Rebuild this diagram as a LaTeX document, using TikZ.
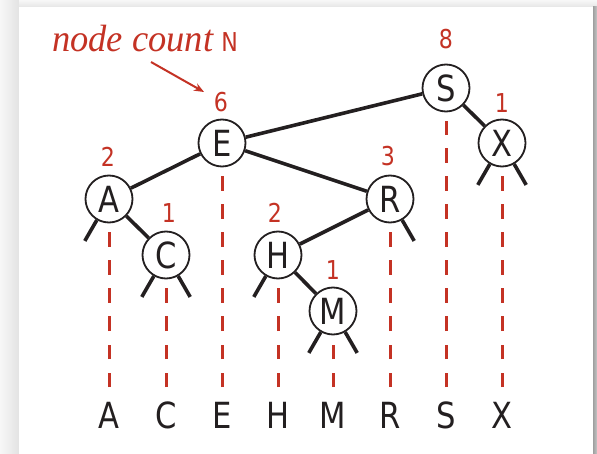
\documentclass[tikz,border=0pt]{standalone}
\usepackage{fontspec}
\newfontfamily\keyfont[FakeStretch=0.85]{DejaVu Sans}
\newfontfamily\notefont[FakeStretch=0.96]{Liberation Serif}
\usetikzlibrary{arrows.meta}
\definecolor{keyred}{RGB}{196,50,36}
\definecolor{ink}{RGB}{35,31,32}
\tikzset{
  bst/.style={circle, draw=ink, line width=1.8pt, fill=white, minimum size=47pt, inner sep=0pt,
              font=\keyfont\fontsize{36}{36}\selectfont, text=ink},
  link/.style={draw=ink, line width=3.6pt},
  cnt/.style={text=keyred, font=\keyfont\fontsize{26}{26}\selectfont, inner sep=0pt},
  keylbl/.style={text=ink, font=\keyfont\fontsize{36}{36}\selectfont, anchor=base, inner sep=0pt},
  keyline/.style={draw=keyred, line width=3pt, dash pattern=on 14.5pt off 13.5pt},
  note/.style={text=keyred, anchor=base west, inner sep=0pt},
  notearrow/.style={draw=keyred, line width=2pt, -{Stealth[length=10pt,width=8pt]}}
}
\begin{document}
\begin{tikzpicture}[x=1pt,y=-1pt]
\useasboundingbox (0,0) rectangle (597,454);
% background and panel
\fill[gray!10] (0,0) rectangle (597,454);
\shade[left color=gray!6, right color=gray!22] (0,0) rectangle (19,454);
\shade[top color=gray!6, bottom color=gray!20] (19,0) rectangle (597,7);
\shade[left color=gray!75, right color=gray!45] (593,7) rectangle (597,454);
\fill[white] (19,7) rectangle (593,454);

% tree nodes
\node[bst] (S) at (446,88) {S};
\node[bst] (E) at (222,143) {E};
\node[bst] (X) at (502,143) {X};
\node[bst] (A) at (109,199) {A};
\node[bst] (R) at (390,199) {R};
\node[bst] (C) at (166,255) {C};
\node[bst] (H) at (278,255) {H};
\node[bst] (M) at (333,311) {M};

% links
\draw[link] (S) -- (E);
\draw[link] (S) -- (X);
\draw[link] (E) -- (A);
\draw[link] (E) -- (R);
\draw[link] (A) -- (C);
\draw[link] (R) -- (H);
\draw[link] (H) -- (M);

% null links
\draw[link] (A.-120) -- ++(-120:24pt);
\draw[link] (C.-120) -- ++(-120:24pt);
\draw[link] (C.-60) -- ++(-60:24pt);
\draw[link] (H.-120) -- ++(-120:24pt);
\draw[link] (M.-120) -- ++(-120:24pt);
\draw[link] (M.-60) -- ++(-60:24pt);
\draw[link] (R.-60) -- ++(-60:24pt);
\draw[link] (X.-120) -- ++(-120:24pt);
\draw[link] (X.-60) -- ++(-60:24pt);

% counts
\node[cnt] (nS) at (446,39) {8};
\node[cnt] (nE) at (221,102) {6};
\node[cnt] (nX) at (502,103) {1};
\node[cnt] (nA) at (108,157) {2};
\node[cnt] (nR) at (388,156) {3};
\node[cnt] (nC) at (169,213) {1};
\node[cnt] (nH) at (275,213) {2};
\node[cnt] (nM) at (333,270) {1};

% bottom keys
\node[keylbl] (kA) at (109,428) {A};
\node[keylbl] (kC) at (166,428) {C};
\node[keylbl] (kE) at (222,428) {E};
\node[keylbl] (kH) at (278,428) {H};
\node[keylbl] (kM) at (333,428) {M};
\node[keylbl] (kR) at (390,428) {R};
\node[keylbl] (kS) at (446,428) {S};
\node[keylbl] (kX) at (502,428) {X};

% dashed projection lines
\foreach \k in {A,C,E,H,M,R,S,X}{
  \draw[keyline] ([yshift=41pt]k\k.base) -- ([yshift=-9pt]\k.south);
}

% annotation
\node[note] (lbl) at (52,52) {\notefont\fontsize{38}{38}\selectfont\itshape node count\hspace{8pt}{\upshape\keyfont\fontsize{26}{26}\selectfont N}};
\coordinate (arrS) at (151,62);
\coordinate (arrE) at (204,92);
\draw[notearrow] (arrS) -- (arrE);
\end{tikzpicture}
\end{document}
